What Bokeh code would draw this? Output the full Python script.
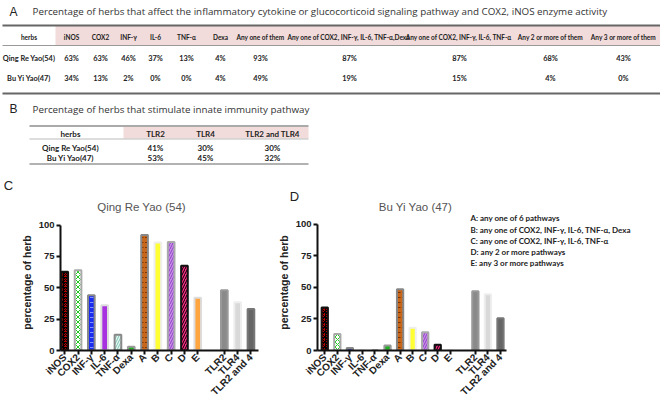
import math
from bokeh.plotting import figure
from bokeh.layouts import column, row
from bokeh.models import Range1d, FixedTicker, ColumnDataSource, Label
from bokeh.core.properties import value
from bokeh.embed import file_html
from bokeh.resources import INLINE

# ---------------- data ----------------
a_title = ("Percentage of herbs that affect the inflammatory cytokine or glucocorticoid "
           "signaling pathway and COX2, iNOS enzyme activity")
a_headers = ["herbs", "iNOS", "COX2", "INF-γ", "IL-6", "TNF-α", "Dexa", "Any one of them",
             "Any one of  COX2, INF-γ, IL-6, TNF-α,Dexa", "Any one of  COX2, INF-γ, IL-6, TNF-α",
             "Any 2 or more of them", "Any 3 or more of them"]
a_row_names = ["Qing Re Yao(54)", "Bu Yi Yao(47)"]
a_qing = [63, 63, 46, 37, 13, 4, 93, 87, 87, 68, 43]
a_buyi = [34, 13, 2, 0, 0, 4, 49, 19, 15, 4, 0]

b_title = "Percentage of herbs that stimulate innate immunity pathway"
b_headers = ["herbs", "TLR2", "TLR4", "TLR2 and TLR4"]
b_row_names = ["Qing Re Yao(54)", "Bu Yi Yao(47)"]
b_qing = [41, 30, 30]
b_buyi = [53, 45, 32]

chart_categories = ["iNOS", "COX2", "INF-γ", "IL-6", "TNF-α", "Dexa", "A", "B", "C", "D", "E",
                    "TLR2", "TLR4", "TLR2 and 4"]
qing_values = [62.8, 64, 44, 36, 12.5, 3, 92, 86, 86.5, 67.5, 42, 48, 38.5, 33]
buyi_values = [34, 13, 2, 0, 0, 4, 48.5, 18, 14.5, 4.5, 0, 47, 44.5, 25.5]
qing_title = "Qing Re Yao (54)"
buyi_title = "Bu Yi Yao (47)"
legend_lines = ["A: any one of 6 pathways",
                "B: any one of COX2, INF-γ, IL-6, TNF-α, Dexa",
                "C: any one of COX2, INF-γ, IL-6, TNF-α",
                "D: any 2 or more pathways",
                "E: any 3 or more pathways"]

# ---------------- styles ----------------
bar_fill = ["#b00000", "#ffffff", "#1a2cf0", "#a832e0", "#e6f7f2", "#1fb01f", "#c8661a",
            "#ffff33", "#c78fe6", "#ff2d87", "#ffa53f", "#8a8a8a", "#d9d9d9", "#666666"]
bar_line = ["#111111", "#aaaaaa", "#888888", "#dddddd", "#888888", "#999999", "#888888",
            "#eeeeee", "#aaaaaa", "#111111", "#dddddd", "#999999", "#eeeeee", "#777777"]
bar_hatch = ["criss_cross", "diagonal_cross", "horizontal_dash", " ", "right_diagonal_line", " ",
             "horizontal_dash", " ", "right_diagonal_line", "right_diagonal_line", " ", " ", " ", " "]
bar_hatch_color = ["#000000", "#22cc22", "#8090ff", "#000000", "#7fc4b4", "#000000", "#7a3500",
                   "#000000", "#9040c8", "#000000", "#000000", "#000000", "#000000", "#000000"]

SANS = value("Liberation Sans")
LATO = value("Lato")
OPEN = value("Open Sans")

# ---------------- top figure: tables A and B ----------------
pt = figure(width=660, height=214, x_range=Range1d(0, 660), y_range=Range1d(214, 0),
            output_backend="svg", toolbar_location=None, min_border=0, title=None)
pt.axis.visible = False
pt.grid.visible = False
pt.outline_line_color = None

# panel letters and titles
pt.text(x=[13, 13], y=[11, 108], text=["A", "B"], text_font=SANS, text_font_size="12px",
        text_color="#222222", text_align="center", text_baseline="middle")
pt.text(x=[32, 32], y=[11, 109], text=[a_title, b_title], text_font=OPEN,
        text_font_size="9.8px", text_color="#333333", text_align="left", text_baseline="middle")

# table A
pt.quad(left=[55], right=[660], top=[25], bottom=[45], fill_color="#f2dcdb", line_color=None)
pt.segment(x0=[2, 2, 2], x1=[660, 660, 660], y0=[25, 45, 93], y1=[25, 45, 93],
           line_color=["#666666", "#999999", "#666666"], line_width=[2, 1, 2])
a_x = [28.5, 71, 100, 128, 155, 186, 220, 260, 349, 459, 550, 623]
pt.text(x=a_x, y=[36.5] * len(a_headers), text=a_headers, text_font=LATO,
        text_font_size="6.5px", text_font_style="bold", text_color="#222222",
        text_align="center", text_baseline="middle")
cells_x, cells_y, cells_t = [], [], []
for ry, name, vals in [(58, a_row_names[0], a_qing), (78, a_row_names[1], a_buyi)]:
    cells_x.append(a_x[0]); cells_y.append(ry); cells_t.append(name)
    for cx, v in zip(a_x[1:], vals):
        cells_x.append(cx); cells_y.append(ry); cells_t.append(f"{v}%")
pt.text(x=cells_x, y=cells_y, text=cells_t, text_font=LATO, text_font_size="7.4px",
        text_font_style="bold", text_color="#222222", text_align="center", text_baseline="middle")

# table B
pt.quad(left=[123], right=[308], top=[126], bottom=[138], fill_color="#f2dcdb", line_color=None)
pt.segment(x0=[29, 29, 29], x1=[308, 308, 308], y0=[125.5, 138.5, 163.5], y1=[125.5, 138.5, 163.5],
           line_color=["#aaaaaa", "#bbbbbb", "#999999"], line_width=[2, 1, 1.5])
b_x = [70, 155, 205, 272]
pt.text(x=b_x, y=[133] * 4, text=b_headers, text_font=LATO, text_font_size="8px",
        text_font_style="bold", text_color="#222222", text_align="center", text_baseline="middle")
bx, by, bt = [], [], []
for ry, name, vals in [(147.5, b_row_names[0], b_qing), (157.5, b_row_names[1], b_buyi)]:
    bx.append(b_x[0]); by.append(ry); bt.append(name)
    for cx, v in zip(b_x[1:], vals):
        bx.append(cx); by.append(ry); bt.append(f"{v}%")
pt.text(x=bx, y=by, text=bt, text_font=LATO, text_font_size="8px", text_font_style="bold",
        text_color="#222222", text_align="center", text_baseline="middle")

# panel C/D letters and chart titles
pt.text(x=[8, 294], y=[185, 196], text=["C", "D"], text_font=SANS, text_font_size="13px",
        text_color="#222222", text_align="center", text_baseline="middle")
pt.text(x=[141, 415], y=[206, 206], text=[qing_title, buyi_title], text_font=SANS,
        text_font_size="11.5px", text_color="#555555", text_align="center", text_baseline="middle")

# ---------------- bar charts ----------------
positions = [i if i < 11 else i + 1 for i in range(len(chart_categories))]
ROW_TOP, FRAME_BOTTOM = 214, 352


def bar_chart(values, width, x_start, x_end, x_bound, y100_px, left):
    # frame spans from the row top to FRAME_BOTTOM; y = 100 sits at y100_px
    y_end = (FRAME_BOTTOM - ROW_TOP) / ((FRAME_BOTTOM - y100_px) / 100)
    p = figure(width=width, height=190, x_range=Range1d(x_start, x_end),
               y_range=Range1d(0, y_end), title=None,
               output_backend="svg", toolbar_location=None,
               min_border_left=left, min_border_right=0,
               min_border_top=0, min_border_bottom=404 - FRAME_BOTTOM)
    src = ColumnDataSource(dict(x=positions, top=values, fill=bar_fill, line=bar_line,
                                hatch=bar_hatch, hcol=bar_hatch_color))
    p.vbar(x="x", top="top", width=0.5, source=src, fill_color="fill", line_color="line",
           line_width=2, hatch_pattern="hatch", hatch_color="hcol", hatch_scale=5,
           hatch_weight=1)
    p.grid.visible = False
    p.outline_line_color = None
    for ax in (p.xaxis[0], p.yaxis[0]):
        ax.axis_line_width = 2
        ax.axis_line_color = "#111111"
        ax.major_tick_line_width = 2
        ax.major_tick_line_color = "#111111"
        ax.major_tick_out = 4
        ax.major_tick_in = 0
        ax.minor_tick_line_color = None
        ax.major_label_text_font = "Liberation Sans"
        ax.major_label_text_font_style = "bold"
        ax.major_label_text_color = "#222222"
    p.xaxis.bounds = (x_start, x_bound)
    p.yaxis.bounds = (0, 100)
    p.xaxis.ticker = FixedTicker(ticks=positions)
    p.xaxis.major_label_overrides = {pos: lab for pos, lab in zip(positions, chart_categories)}
    p.xaxis.major_label_orientation = math.pi / 4
    p.xaxis.major_label_text_font_size = "10px"
    p.xaxis.major_label_standoff = 1
    p.yaxis.ticker = FixedTicker(ticks=[0, 25, 50, 75, 100])
    p.yaxis.major_label_text_font_size = "9.5px"
    p.yaxis.major_label_standoff = 2
    p.yaxis.axis_label = "percentage of herb"
    p.yaxis.axis_label_text_font = "Liberation Sans"
    p.yaxis.axis_label_text_font_size = "10.5px"
    p.yaxis.axis_label_text_font_style = "bold"
    p.yaxis.axis_label_text_color = "#222222"
    p.yaxis.axis_label_standoff = 3
    return p


# panel C: axis from x = 60 to 258 px, one category = 13.3 px
c_xs, c_unit, c_x0 = -0.32, 13.3, 60
c_xe = c_xs + (272 - c_x0) / c_unit
pc = bar_chart(qing_values, 272, c_xs, c_xe, 14.58, 224.7, 60)

# panel D: frame extends to the right edge so the legend fits inside it
d_xs, d_unit, d_x0 = -0.58, 12.55, 317
d_xe = d_xs + (660 - d_x0) / d_unit
pd_ = bar_chart(buyi_values, 388, d_xs, d_xe, 14.5, 224, 45)

d_yunit = (FRAME_BOTTOM - 224) / 100
for i, line in enumerate(legend_lines):
    px, py = 470, 218 + 11.4 * i
    lx = d_xs + (px - d_x0) / d_unit
    ly = (FRAME_BOTTOM - py) / d_yunit
    pd_.add_layout(Label(x=lx, y=ly, text=line, text_font="Lato", text_font_size="8px",
                         text_font_style="bold", text_color="#222222",
                         text_align="left", text_baseline="middle"))

layout = column(pt, row(pc, pd_))
open("out.html", "w").write(file_html(layout, INLINE))
